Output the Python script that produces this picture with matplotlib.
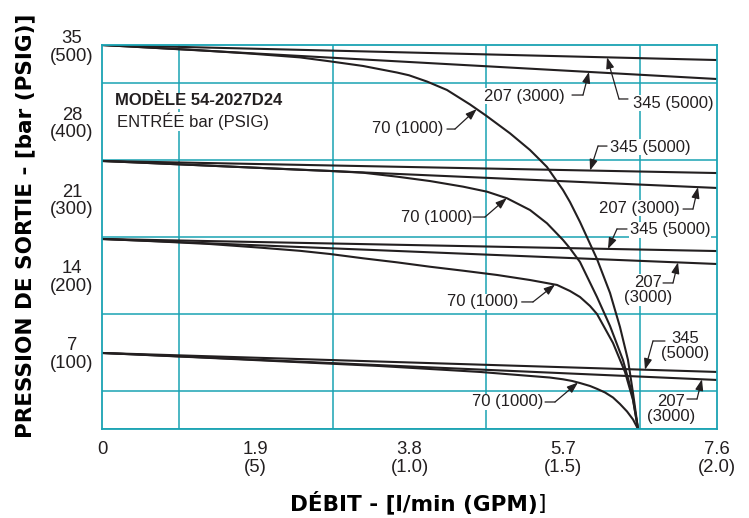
import numpy as np
import matplotlib
matplotlib.use("Agg")
import matplotlib.pyplot as plt

# ---------------- data (flow l/min, outlet pressure bar) ----------------
line_x = [0.0, 7.6]

g1_345 = [35.0, 33.63]
g1_207 = [35.0, 31.90]
g1_70_x = [0.0, 1.211, 1.829, 2.447, 2.818, 3.225, 3.646, 3.794, 4.016, 4.263, 4.548, 4.745,
           5.042, 5.289, 5.413, 5.499, 5.697, 5.783, 5.907, 6.117, 6.278, 6.401, 6.500, 6.562, 6.624]
g1_70_y = [35.0, 34.52, 34.22, 33.87, 33.51, 33.09, 32.49, 32.24, 31.67, 30.90, 29.58, 28.57,
           26.95, 25.43, 24.52, 23.88, 21.78, 20.69, 18.87, 15.49, 12.40, 9.30, 6.29, 3.28, 0.0]

g2_345 = [24.43, 23.33]
g2_207 = [24.43, 21.97]
g2_70_x = [0.0, 1.211, 2.447, 2.818, 3.225, 3.646, 4.053, 4.461, 4.758, 5.005, 5.289, 5.499,
           5.697, 5.783, 5.907, 6.117, 6.278, 6.438, 6.550, 6.624]
g2_70_y = [24.43, 24.04, 23.63, 23.52, 23.36, 23.00, 22.60, 22.09, 21.63, 21.03, 19.96, 18.75,
           17.23, 16.47, 15.22, 12.03, 9.39, 6.29, 3.28, 0.0]

g3_345 = [17.32, 16.22]
g3_207 = [17.32, 15.04]
g3_70_x = [0.0, 0.717, 1.335, 1.953, 2.447, 2.818, 3.225, 3.646, 4.053, 4.461, 4.881, 5.289,
           5.623, 5.783, 5.907, 6.031, 6.117, 6.315, 6.463, 6.562, 6.624]
g3_70_y = [17.32, 17.09, 16.86, 16.53, 16.24, 15.95, 15.56, 15.19, 14.79, 14.43, 14.04, 13.58,
           13.13, 12.58, 12.03, 11.21, 10.48, 7.84, 5.20, 2.64, 0.0]

g4_345 = [6.93, 5.20]
g4_207 = [6.93, 4.47]
g4_70_x = [0.0, 1.211, 3.435, 4.671, 5.536, 5.697, 5.808, 5.907, 6.031, 6.117, 6.216, 6.315,
           6.401, 6.488, 6.562, 6.624]
g4_70_y = [6.93, 6.52, 5.74, 5.20, 4.69, 4.53, 4.38, 4.19, 3.92, 3.66, 3.33, 2.87,
           2.28, 1.60, 0.87, 0.0]

x_tick_vals = [0, 1.9, 3.8, 5.7, 7.6]
x_tick_labels = ["0", "1.9\n(5)", "3.8\n(1.0)", "5.7\n(1.5)", "7.6\n(2.0)"]
y_tick_vals = [7, 14, 21, 28, 35]
y_tick_labels = ["7\n(100)", "14\n(200)", "21\n(300)", "28\n(400)", "35\n(500)"]

curves = {
    "g1_345": (line_x, g1_345), "g1_207": (line_x, g1_207), "g1_70": (g1_70_x, g1_70_y),
    "g2_345": (line_x, g2_345), "g2_207": (line_x, g2_207), "g2_70": (g2_70_x, g2_70_y),
    "g3_345": (line_x, g3_345), "g3_207": (line_x, g3_207), "g3_70": (g3_70_x, g3_70_y),
    "g4_345": (line_x, g4_345), "g4_207": (line_x, g4_207), "g4_70": (g4_70_x, g4_70_y),
}

# label, text x, text y, ha, leader start x, knee x, leader y, tip x, curve
labels = [
    ("207 (3000)", 5.722, 30.35, "right", 5.808, 5.944, 30.44, 6.018, "g1_207"),
    ("345 (5000)", 6.562, 29.71, "left", 6.500, 6.389, 30.08, 6.241, "g1_345"),
    ("70 (1000)", 4.214, 27.43, "right", 4.263, 4.362, 27.34, 4.630, "g1_70"),
    ("345 (5000)", 6.278, 25.70, "left", 6.241, 6.130, 25.79, 6.031, "g2_345"),
    ("207 (3000)", 7.143, 20.14, "right", 7.180, 7.303, 20.05, 7.365, "g2_207"),
    ("70 (1000)", 4.572, 19.32, "right", 4.585, 4.733, 19.32, 5.001, "g2_70"),
    ("345 (5000)", 6.525, 18.14, "left", 6.488, 6.364, 18.23, 6.253, "g3_345"),
    ("207\n(3000)", 6.747, 12.67, "center", 6.933, 7.056, 13.31, 7.118, "g3_207"),
    ("70 (1000)", 5.141, 11.58, "right", 5.186, 5.326, 11.58, 5.598, "g3_70"),
    ("345\n(5000)", 7.211, 7.565, "center", 6.957, 6.809, 8.02, 6.710, "g4_345"),
    ("207\n(3000)", 7.038, 1.868, "center", 7.229, 7.353, 2.734, 7.414, "g4_207"),
    ("70 (1000)", 5.450, 2.461, "right", 5.475, 5.598, 2.461, 5.882, "g4_70"),
]

# ---------------- styling ----------------
plt.rcParams["font.family"] = ["Liberation Sans", "DejaVu Sans"]
grid_col = "#1aa3b3"
ink = "#231f20"

fig = plt.figure(figsize=(7.49, 5.18), dpi=100)
ax = fig.add_axes([102 / 749, 1 - 429 / 518, 615 / 749, 384 / 518])
ax.set_xlim(0, 7.6)
ax.set_ylim(0, 35)

ax.set_xticks(x_tick_vals)
ax.set_xticklabels(x_tick_labels, linespacing=1.05)
ax.set_yticks(y_tick_vals)
ax.set_yticklabels(y_tick_labels, linespacing=1.05, multialignment="center")
for t in ax.get_yticklabels():
    t.set_horizontalalignment("center")
ax.set_xticks(np.arange(0, 7.61, 0.95), minor=True)
ax.set_yticks(np.arange(0, 35.1, 3.5), minor=True)
ax.tick_params(axis="both", which="both", length=0, labelsize=13.3, colors=ink)
ax.tick_params(axis="x", pad=9)
ax.tick_params(axis="y", pad=21.6)
ax.grid(True, which="minor", color=grid_col, lw=1.1, zorder=0)
ax.grid(False, which="major")
for s in ax.spines.values():
    s.set_color(grid_col)
    s.set_linewidth(1.3)
ax.set_axisbelow(True)

for key, (cx, cy) in curves.items():
    ax.plot(cx, cy, color=ink, lw=1.5, zorder=2, solid_capstyle="butt", solid_joinstyle="round")

for (txt, tx, ty, ha, sx, kx, ly, tipx, ck) in labels:
    ax.text(tx, ty, txt, ha=ha, va="center", fontsize=12, color=ink,
            multialignment="center", linespacing=1.0, zorder=4,
            bbox=dict(facecolor="white", edgecolor="none", pad=0.5))
    cx, cy = curves[ck]
    tipy = float(np.interp(tipx, cx, cy))
    ax.annotate("", xy=(kx, ly), xytext=(sx, ly),
                arrowprops=dict(arrowstyle="-", lw=0.9, color=ink, shrinkA=0, shrinkB=0), zorder=5)
    ax.annotate("", xy=(tipx, tipy), xytext=(kx, ly),
                arrowprops=dict(arrowstyle="-|>,head_length=0.55,head_width=0.2", lw=0.9,
                                color=ink, shrinkA=0, shrinkB=0, mutation_scale=12), zorder=5)

ax.text(0.161, 29.90, "MODÈLE 54-2027D24", ha="left", va="center", fontsize=12,
        fontweight="bold", color=ink, zorder=4,
        bbox=dict(facecolor="white", edgecolor="none", pad=0.5))
ax.text(0.185, 28.03, "ENTRÉE bar (PSIG)", ha="left", va="center", fontsize=12,
        color=ink, zorder=4, bbox=dict(facecolor="white", edgecolor="none", pad=0.5))

fig.text(25 / 749, 1 - 226 / 518, "PRESSION DE SORTIE - [bar (PSIG)]", rotation=90,
         ha="center", va="center", fontsize=15.5, fontweight="bold",
         family=["DejaVu Sans"], color="black")
xl = fig.text(290 / 749, 1 - 502 / 518, "DÉBIT - [l/min (GPM)", ha="left", va="center",
              fontsize=15.5, fontweight="bold", family=["DejaVu Sans"], color="black")
ax.annotate("]", xy=(1, 0), xycoords=xl, ha="left", va="bottom",
            fontsize=15.5, family=["DejaVu Sans"], color="black", annotation_clip=False)

fig.savefig("out.png", dpi=100)
